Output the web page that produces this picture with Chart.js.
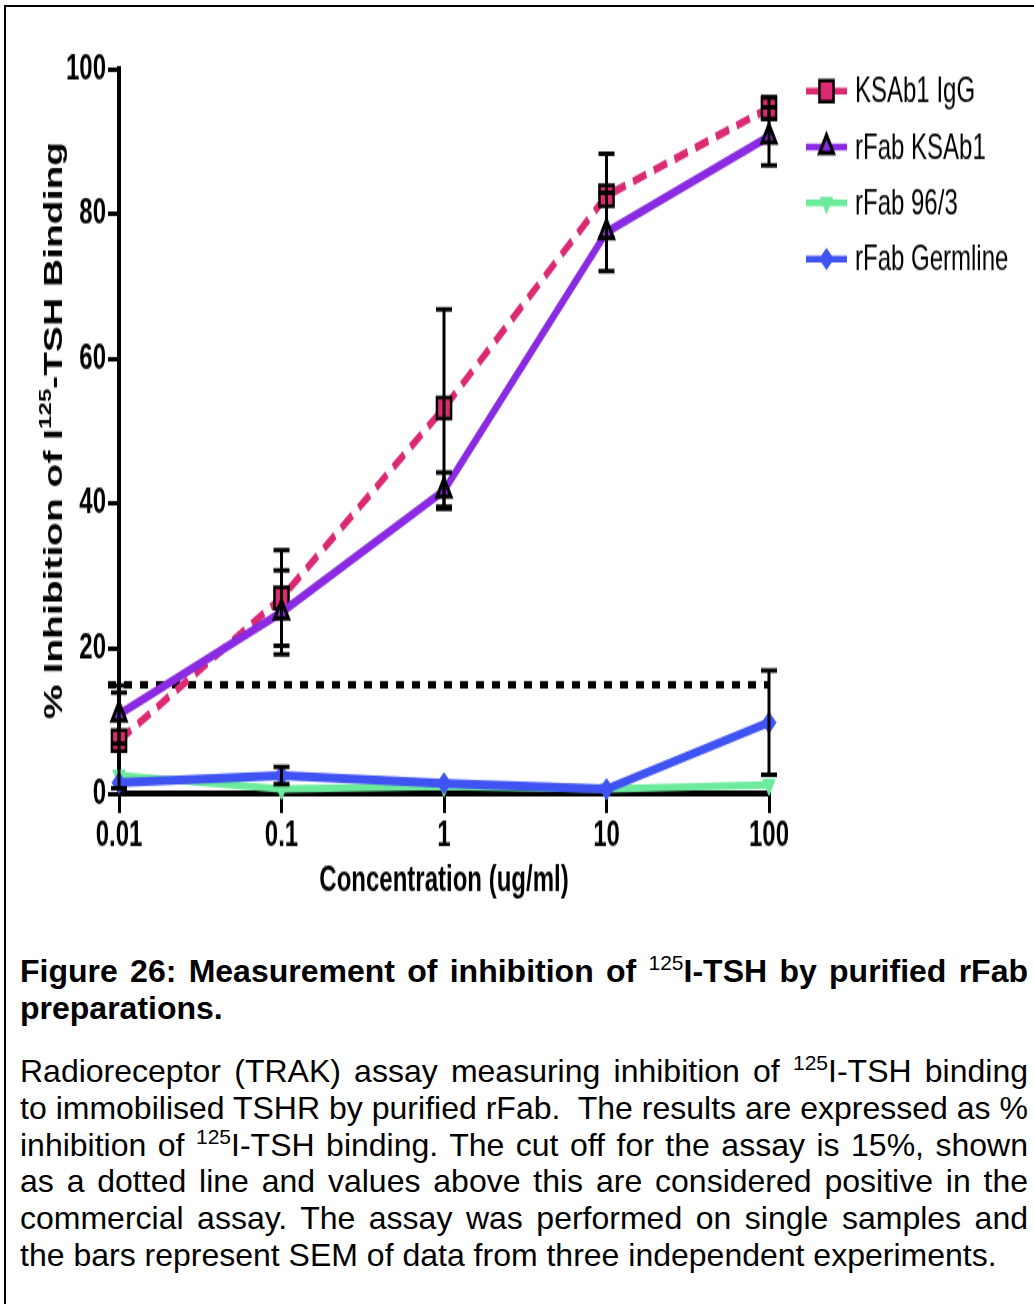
<!DOCTYPE html>
<html><head><meta charset="utf-8">
<script src="https://cdn.jsdelivr.net/npm/chart.js@4.4.1/dist/chart.umd.min.js"></script>
<style>
html,body{margin:0;padding:0;background:#fff;width:1034px;height:1304px;overflow:hidden;}
#frame{position:absolute;left:4px;top:5px;width:2000px;height:2000px;border:2px solid #000;}
#wrap{position:absolute;left:0;top:0;width:1034px;height:614px;transform:scaleY(1.5);transform-origin:0 0;}
canvas{display:block;}
.cap{position:absolute;left:20px;width:1008px;font-family:"Liberation Sans",Arial,sans-serif;font-size:32px;line-height:36.8px;color:#000;}
.cap div{text-align:justify;text-align-last:justify;}
.cap div.last{text-align:left;text-align-last:left;}
.b{font-weight:bold;}
.sup{font-size:21px;font-weight:normal;position:relative;top:-12px;line-height:0;}
</style></head>
<body>
<div id="frame"></div>
<div id="wrap"><canvas id="c" width="1034" height="614" style="width:1034px;height:614px"></canvas></div>
<div class="cap b" style="top:953px;">
<div>Figure 26: Measurement of inhibition of <span class="sup">125</span>I-TSH by purified rFab</div>
<div class="last">preparations.</div>
</div>
<div class="cap" style="top:1053px;">
<div>Radioreceptor (TRAK) assay measuring inhibition of <span class="sup">125</span>I-TSH binding</div>
<div>to immobilised TSHR by purified rFab.&nbsp; The results are expressed as %</div>
<div>inhibition of <span class="sup">125</span>I-TSH binding. The cut off for the assay is 15%, shown</div>
<div>as a dotted line and values above this are considered positive in the</div>
<div>commercial assay. The assay was performed on single samples and</div>
<div class="last">the bars represent SEM of data from three independent experiments.</div>
</div>
<script>
// ---- data ----
const concentrations = [0.01, 0.1, 1, 10, 100];
const xTickLabels = ['0.01', '0.1', '1', '10', '100'];
const yTickValues = [0, 20, 40, 60, 80, 100];
const seriesNames = ['KSAb1 IgG', 'rFab KSAb1', 'rFab 96/3', 'rFab Germline'];
const ksab1IgG = [7.3, 27.0, 53.2, 82.5, 94.6];
const ksab1IgGSem = [6.6, 6.6, 13.6, 5.8, 1.5];
const rFabKSAb1 = [10.9, 25.0, 41.8, 77.5, 90.7];
const rFabKSAb1Sem = [4.0, 5.8, 2.5, 5.4, 4.0];
const rFab963 = [2.5, 0.6, 1.0, 0.6, 1.2];
const rFab963Sem = [0, 0, 0, 0, 0];
const rFabGermline = [1.5, 2.5, 1.4, 0.6, 9.8];
const rFabGermlineSem = [0, 1.2, 0, 0, 7.2];
const cutoffValue = 15;
const xTitle = 'Concentration (ug/ml)';
const yTitleParts = ['% Inhibition of I', '125', '-TSH Binding'];

const FONT = '"Liberation Sans", Arial, Helvetica, sans-serif';
const toPts = arr => arr.map((v, i) => ({x: concentrations[i], y: v}));

const styles = [
  {color: '#DC2A72', dash: [14, 8], pointStyle: 'rect', radius: 10, rotation: 0, pbc: '#000', pbw: 2.5, bw: 5.5},
  {color: '#8A2BE2', dash: [], pointStyle: 'triangle', radius: 8, rotation: 0, pbc: '#000', pbw: 3, bw: 6},
  {color: '#6DEB9C', dash: [], pointStyle: 'triangle', radius: 7, rotation: 180, pbc: '#6DEB9C', pbw: 1, bw: 5},
  {color: '#3F53F2', dash: [], pointStyle: 'rectRot', radius: 7, rotation: 0, pbc: '#3F53F2', pbw: 1, bw: 6}
];
const values = [ksab1IgG, rFabKSAb1, rFab963, rFabGermline];
const sems = [ksab1IgGSem, rFabKSAb1Sem, rFab963Sem, rFabGermlineSem];

const datasets = seriesNames.map((name, i) => ({
  label: name,
  data: toPts(values[i]),
  sem: sems[i],
  borderColor: styles[i].color,
  backgroundColor: styles[i].color,
  borderWidth: styles[i].bw,
  borderDash: styles[i].dash,
  pointStyle: styles[i].pointStyle,
  pointRadius: styles[i].radius,
  pointRotation: styles[i].rotation,
  pointBorderColor: styles[i].pbc,
  pointBorderWidth: styles[i].pbw,
  pointBackgroundColor: styles[i].color,
  tension: 0,
  clip: false,
  order: 4 - i
}));

const cutoffPlugin = {
  id: 'cutoff',
  beforeDatasetsDraw(chart) {
    const {ctx, scales: {x, y}} = chart;
    const py = y.getPixelForValue(cutoffValue);
    ctx.save();
    ctx.strokeStyle = '#000';
    ctx.lineWidth = 5;
    ctx.setLineDash([8, 8]);
    ctx.beginPath();
    ctx.moveTo(x.left - 11, py);
    ctx.lineTo(x.right, py);
    ctx.stroke();
    ctx.restore();
  }
};

const errorPlugin = {
  id: 'errbars',
  afterDatasetsDraw(chart) {
    const {ctx, scales: {x, y}} = chart;
    ctx.save();
    ctx.strokeStyle = '#000';
    chart.data.datasets.forEach(ds => {
      ds.data.forEach((p, j) => {
        const s = ds.sem[j];
        if (!s) return;
        const px = x.getPixelForValue(p.x);
        const top = y.getPixelForValue(p.y + s);
        const bot = y.getPixelForValue(Math.max(0, p.y - s));
        ctx.lineWidth = 3;
        ctx.beginPath();
        ctx.moveTo(px, top); ctx.lineTo(px, bot);
        ctx.moveTo(px - 8, top); ctx.lineTo(px + 8, top);
        ctx.moveTo(px - 8, bot); ctx.lineTo(px + 8, bot);
        ctx.stroke();
      });
    });
    ctx.restore();
  }
};

function drawMarker(ctx, st, cx, cy) {
  ctx.save();
  ctx.fillStyle = st.color;
  ctx.strokeStyle = st.pbc;
  ctx.lineWidth = st.pbw;
  ctx.beginPath();
  const r = st.radius;
  if (st.pointStyle === 'rect') {
    const s = Math.SQRT1_2 * r;
    ctx.rect(cx - s, cy - s, 2 * s, 2 * s);
  } else if (st.pointStyle === 'rectRot') {
    ctx.moveTo(cx - r, cy); ctx.lineTo(cx, cy - r); ctx.lineTo(cx + r, cy); ctx.lineTo(cx, cy + r); ctx.closePath();
  } else {
    const sign = st.rotation === 180 ? -1 : 1;
    const w = r * Math.sqrt(3) / 2;
    ctx.moveTo(cx, cy - sign * r);
    ctx.lineTo(cx + w, cy + sign * r / 2);
    ctx.lineTo(cx - w, cy + sign * r / 2);
    ctx.closePath();
  }
  ctx.fill();
  ctx.stroke();
  ctx.restore();
}

const legendPlugin = {
  id: 'customLegend',
  afterDraw(chart) {
    const ctx = chart.ctx;
    const rows = [60.7, 98, 135.3, 172.7];
    chart.data.datasets.forEach((ds, i) => {
      const st = styles[i];
      const yy = rows[i];
      ctx.save();
      ctx.strokeStyle = st.color;
      ctx.lineWidth = 4.5;
      ctx.beginPath();
      ctx.moveTo(806, yy); ctx.lineTo(847, yy);
      ctx.stroke();
      ctx.restore();
      drawMarker(ctx, st, 826.5, yy);
      ctx.save();
      ctx.fillStyle = '#000';
      ctx.font = '24px ' + FONT;
      ctx.textBaseline = 'middle';
      ctx.textAlign = 'left';
      ctx.fillText(ds.label, 855, yy + 1);
      ctx.restore();
    });
  }
};

const yTitlePlugin = {
  id: 'yTitle',
  afterDraw(chart) {
    const ctx = chart.ctx;
    ctx.save();
    ctx.translate(62, 287);
    ctx.rotate(-Math.PI / 2);
    ctx.fillStyle = '#000';
    ctx.textBaseline = 'alphabetic';
    ctx.textAlign = 'left';
    const big = 'bold 26px ' + FONT, small = 'bold 16px ' + FONT;
    ctx.font = big; const w1 = ctx.measureText(yTitleParts[0]).width;
    const w3 = ctx.measureText(yTitleParts[2]).width;
    ctx.font = small; const w2 = ctx.measureText(yTitleParts[1]).width;
    let sx = -(w1 + w2 + w3) / 2;
    ctx.font = big; ctx.fillText(yTitleParts[0], sx, 0); sx += w1;
    ctx.font = small; ctx.fillText(yTitleParts[1], sx, -11); sx += w2;
    ctx.font = big; ctx.fillText(yTitleParts[2], sx, 0);
    ctx.restore();
  }
};

new Chart(document.getElementById('c'), {
  type: 'line',
  data: {datasets},
  options: {
    responsive: false,
    animation: false,
    devicePixelRatio: 1,
    layout: {padding: {left: 0, top: 46, right: 265, bottom: 0}},
    plugins: {legend: {display: false}, tooltip: {enabled: false}},
    scales: {
      x: {
        type: 'logarithmic',
        min: 0.01, max: 100,
        afterBuildTicks: s => { s.ticks = concentrations.map(v => ({value: v})); },
        afterFit: s => { s.height = 85; },
        ticks: {
          autoSkip: false, maxRotation: 0, padding: 1, color: '#000',
          font: {family: FONT, size: 24, weight: 'bold'},
          callback: (v, i) => xTickLabels[i]
        },
        grid: {display: true, drawOnChartArea: false, drawTicks: true, tickLength: 13, tickWidth: 3, tickColor: '#000', color: '#000', lineWidth: 3},
        border: {display: true, color: '#000', width: 4},
        title: {display: true, text: xTitle, color: '#000', font: {family: FONT, size: 24, weight: 'bold'}, padding: {top: 0, bottom: 12}}
      },
      y: {
        type: 'linear',
        min: 0, max: 100,
        afterBuildTicks: s => { s.ticks = yTickValues.map(v => ({value: v})); },
        afterFit: s => { s.width = 119; },
        ticks: {
          padding: 2, color: '#000',
          font: {family: FONT, size: 24, weight: 'bold'},
          callback: v => String(v)
        },
        grid: {display: true, drawOnChartArea: false, drawTicks: true, tickLength: 11, tickWidth: 3, tickColor: '#000', color: '#000', lineWidth: 3},
        border: {display: true, color: '#000', width: 4}
      }
    }
  },
  plugins: [cutoffPlugin, errorPlugin, legendPlugin, yTitlePlugin]
});
</script>
</body></html>
